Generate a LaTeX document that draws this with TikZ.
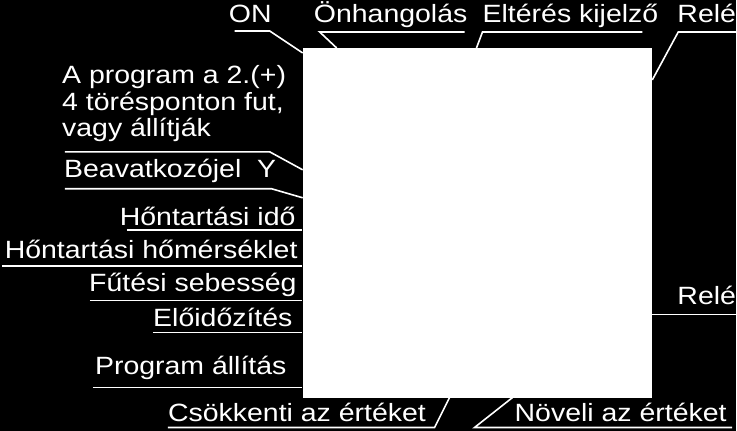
\documentclass[tikz,border=0pt]{standalone}
\usepackage{fontspec}
\newfontfamily\lblfont{Liberation Sans}[FakeStretch=1.14]
\begin{document}
\begin{tikzpicture}[x=1pt,y=-1pt,lbl/.style={white,inner sep=0,font=\lblfont\fontsize{25}{26.5}\selectfont},lead/.style={white,line width=1.6pt}]
            \fill[black] (0,0) rectangle (737,431);
            \node[fill=white,minimum size=350pt,inner sep=0] (panel) at (478,223) {};

            \coordinate (A1) at (235,31);\coordinate (A2) at (270,31);\coordinate (A3) at (303,53);\coordinate (B1) at (465,32);\coordinate (B2) at (320,32);\coordinate (B3) at (337,48);\coordinate (C1) at (643,32);\coordinate (C2) at (483,32);\coordinate (C3) at (477,48);\coordinate (D1) at (737,32);\coordinate (D2) at (679,32);\coordinate (D3) at (653,80);\coordinate (E1) at (65,152);\coordinate (E2) at (270,152);\coordinate (E3) at (303,170);\coordinate (F1) at (65,189);\coordinate (F2) at (272,189);\coordinate (F3) at (303,198);\coordinate (G1) at (168,428);\coordinate (G2) at (435,428);\coordinate (G3) at (450,398);\coordinate (H1) at (733,428);\coordinate (H2) at (475,428);\coordinate (H3) at (513,398);\coordinate (R1) at (653,315);\coordinate (R2) at (737,315);

            \node[lbl,anchor=base west] (on) at (229,23) {ON};
            \node[lbl,anchor=base west] (tune) at (314,23) {Önhangolás};
            \node[lbl,anchor=base west] (dev) at (483,23) {Eltérés kijelző};
            \node[lbl,anchor=base west] (relaytop) at (678,23) {Relé};
            \node[lbl,anchor=base west,align=left] (prog) at (62,137) {A program a 2.(+)\\4 törésponton fut,\\vagy állítják};
            \node[lbl,anchor=base west] (ctrl) at (64,178) {Beavatkozójel~~Y};
            \node[lbl,anchor=base east] (soaktime) at (296,226) {Hőntartási idő};
            \node[lbl,anchor=base east] (soaktemp) at (298,259) {Hőntartási hőmérséklet};
            \node[lbl,anchor=base east] (rate) at (297,292) {Fűtési sebesség};
            \node[lbl,anchor=base east] (delay) at (293,327) {Előidőzítés};
            \node[lbl,anchor=base east] (progset) at (287,375) {Program állítás};
            \node[lbl,anchor=base west] (down) at (168,422) {Csökkenti az értéket};
            \node[lbl,anchor=base west] (up) at (515,422) {Növeli az értéket};
            \node[lbl,anchor=base west] (relayside) at (678,305) {Relé};

            \draw[lead] (A1) -- (A2) -- (A3);
            \draw[lead] (B1) -- (B2) -- (B3);
            \draw[lead] (C1) -- (C2) -- (C3);
            \draw[lead] (D1) -- (D2) -- (D3);
            \draw[lead] (E1) -- (E2) -- (E3);
            \draw[lead] (F1) -- (F2) -- (F3);
            \draw[lead] (G1) -- (G2) -- (G3);
            \draw[lead] (H1) -- (H2) -- (H3);
            \draw[lead] (R1) -- (R2);

            \foreach \x/\y in {127/230, 2/266, 90/301, 153/333, 93/388} {
                \draw[lead] (\x,\y) -- (panel.west |- 0,\y);
            }
        \end{tikzpicture}
\end{document}
